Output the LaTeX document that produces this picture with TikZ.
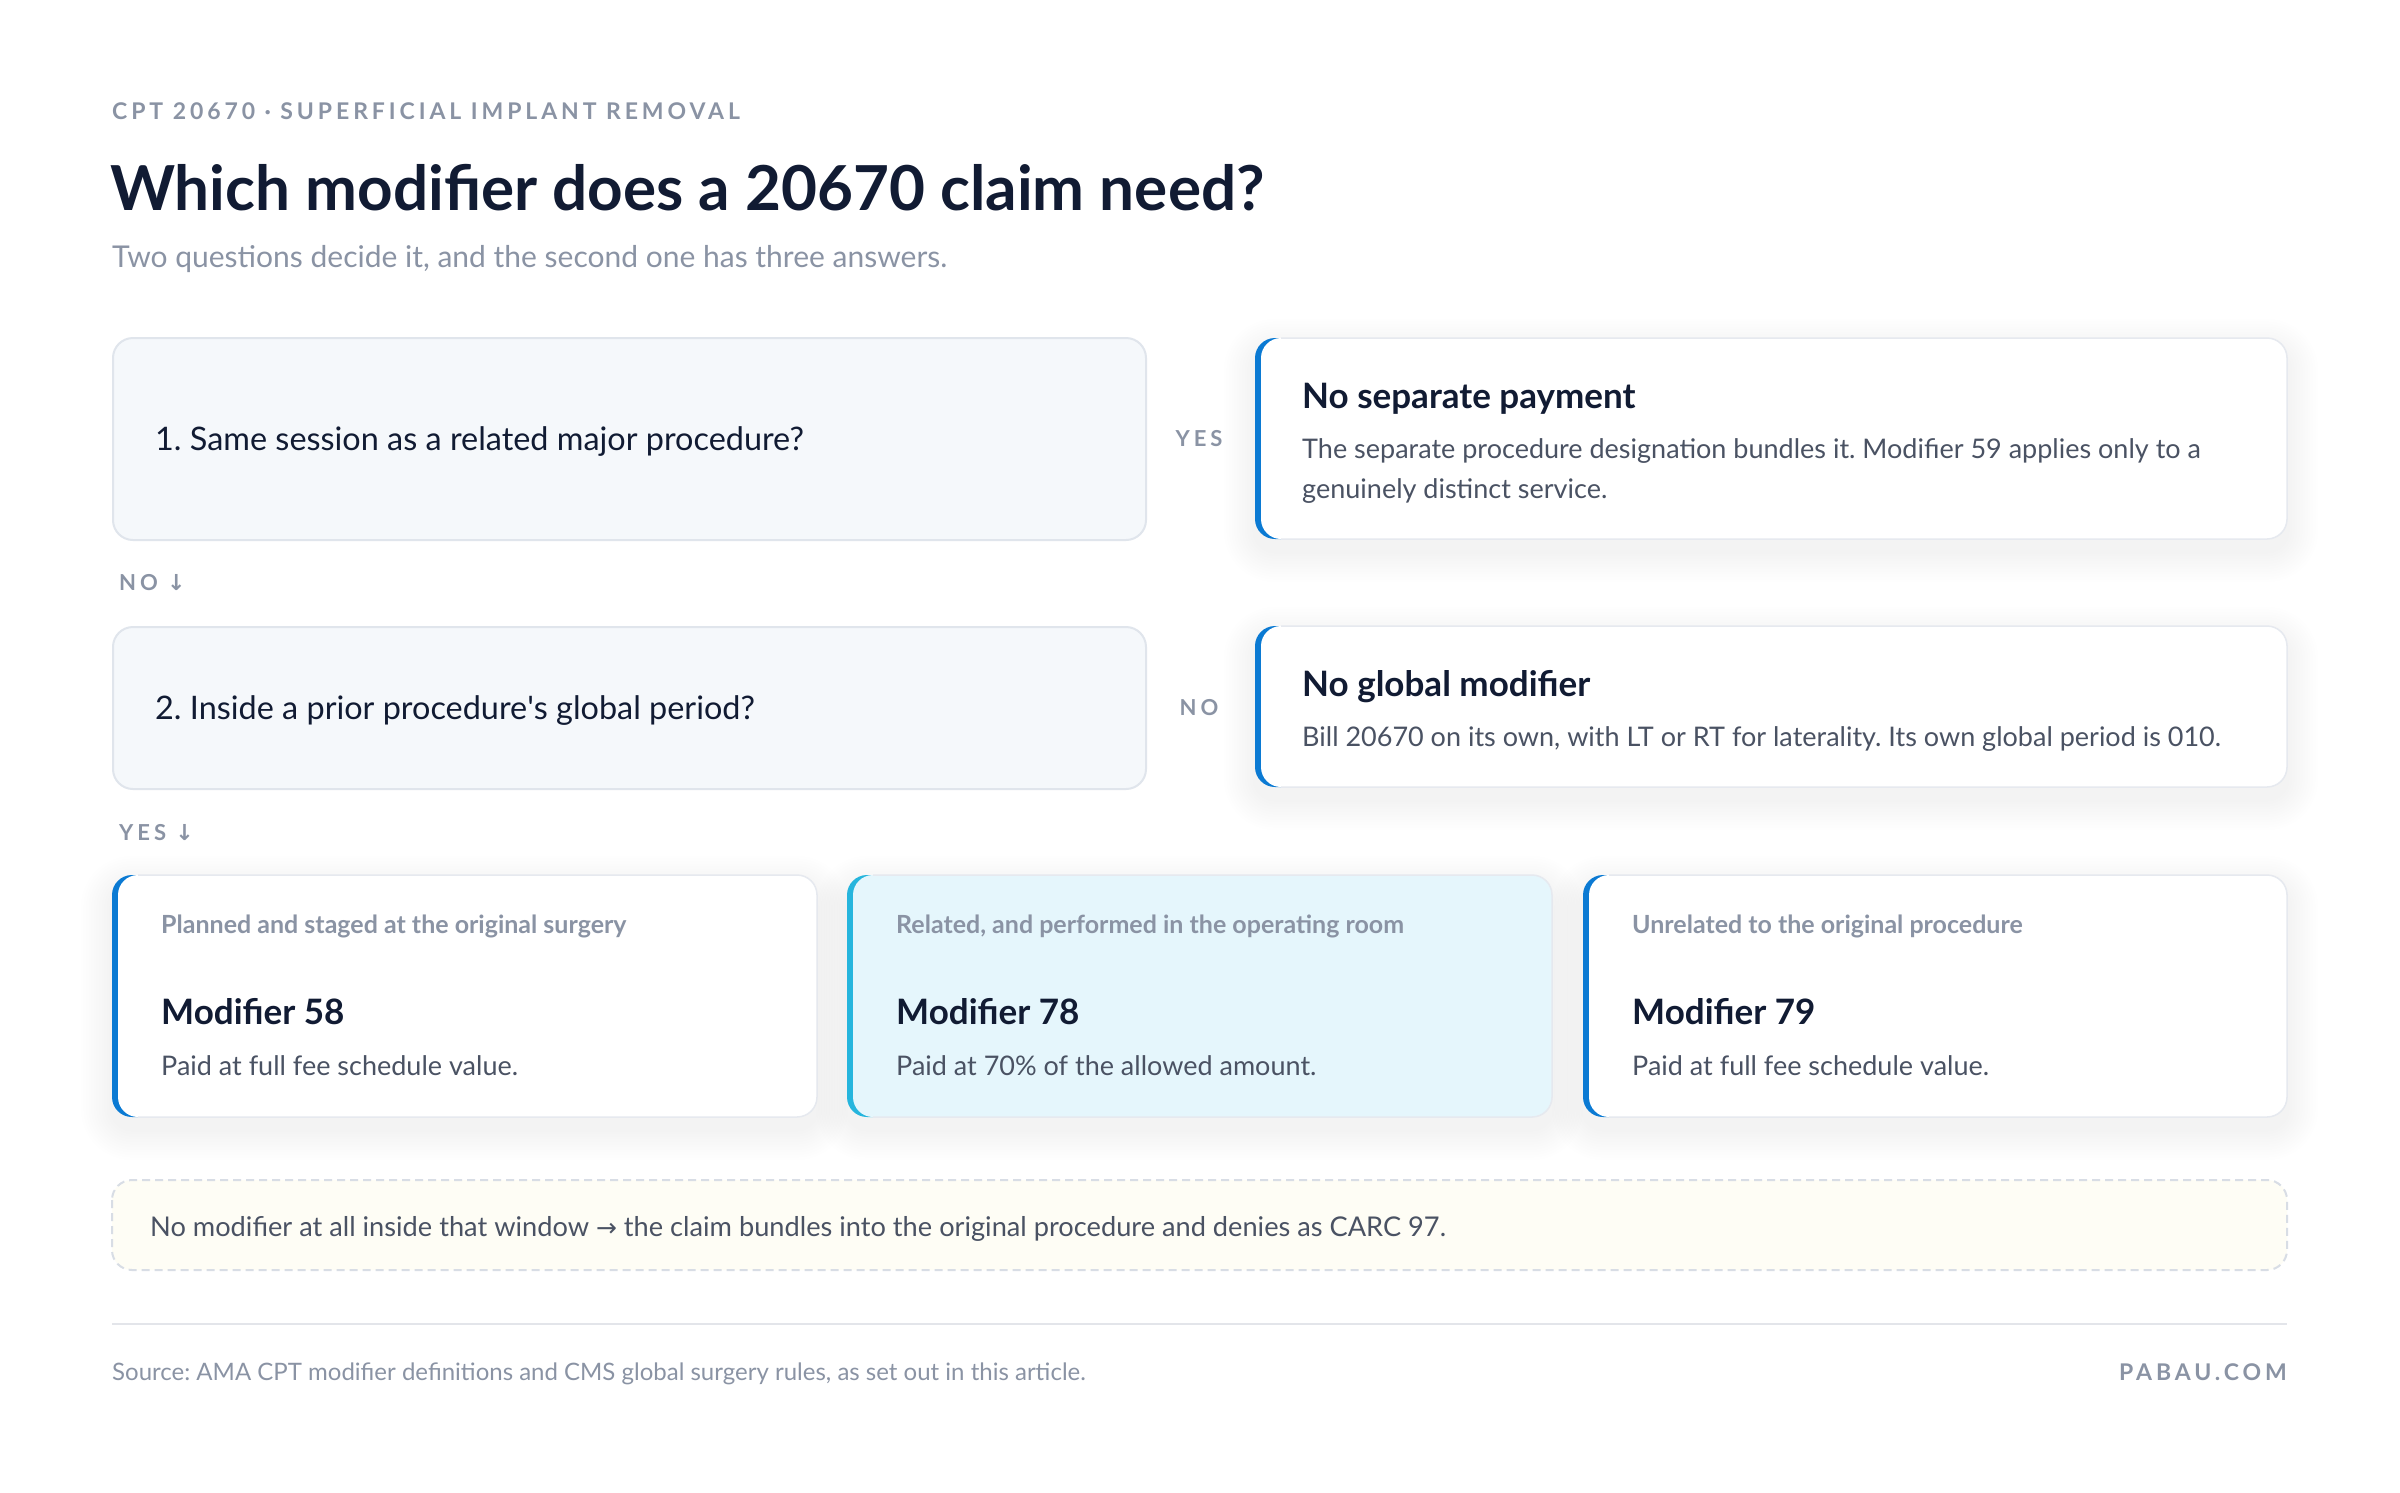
\documentclass[tikz,border=0pt]{standalone}
\usepackage{fontspec}
\setmainfont{Lato}
\newfontfamily\arrowfont{DejaVu Sans}
\newfontfamily\trackfont[LetterSpace=17]{Lato}
\newfontfamily\labelfont[LetterSpace=18]{Lato}
\newcommand\straightquote{\XeTeXglyph\XeTeXcharglyph"0027\relax}
\frenchspacing
\definecolor{ink}{HTML}{111B33}
\definecolor{muted}{HTML}{8A93A4}
\definecolor{bodytxt}{HTML}{4A5263}
\definecolor{qfill}{HTML}{F5F8FB}
\definecolor{qline}{HTML}{E0E5EC}
\definecolor{cardline}{HTML}{E6E9EF}
\definecolor{accent}{HTML}{0B7AD3}
\definecolor{cyanacc}{HTML}{26B5DD}
\definecolor{cyanfill}{HTML}{E5F6FC}
\definecolor{notefill}{HTML}{FEFDF5}
\definecolor{noteline}{HTML}{D8DDE5}
\definecolor{rulecol}{HTML}{E3E5EA}
\definecolor{shadowcol}{HTML}{1E2A4A}
\newcommand\accentcard[7]{%
  \foreach \k in {1,...,12}{%
    \pgfmathsetmacro\grow{2.6*\k}%
    \pgfmathsetmacro\rad{20+2.6*\k}%
    \fill[shadowcol, opacity=0.0055, rounded corners=\rad pt] ({#2-\grow},{#3+12-\grow}) rectangle ({#4+\grow},{#5+12+\grow});
  }
  \fill[#6, rounded corners=20pt] (#2,#3) rectangle (#4,#5);
  \fill[#7, rounded corners=20pt] ({#2+6},#3) rectangle (#4,#5);
  \begin{scope}
    \clip ({#2+26},{#3-5}) rectangle ({#4+5},{#5+5});
    \draw[cardline, line width=1.5pt, rounded corners=20pt] (#2,#3) rectangle (#4,#5);
  \end{scope}
  \coordinate (#1) at ({(#2+#4)/2},{(#3+#5)/2});
}
\tikzset{
  kicker/.style={anchor=base west, text=muted, font=\trackfont\bfseries\fontsize{23}{26}\selectfont, inner sep=0pt},
  lbl/.style={anchor=center, text=muted, font=\labelfont\bfseries\fontsize{22}{26}\selectfont, inner sep=0pt},
  qbox/.style={draw=qline, line width=2pt, fill=qfill, rounded corners=20pt, anchor=north west, inner sep=0pt},
  qtext/.style={anchor=base west, text=ink, font=\fontsize{32.4}{36}\selectfont, inner sep=0pt},
  ctitle/.style={anchor=base west, text=ink, font=\bfseries\fontsize{35}{40}\selectfont, inner sep=0pt},
  cbody/.style={anchor=base west, text=bodytxt, font=\fontsize{27}{32}\selectfont, inner sep=0pt},
  chead/.style={anchor=base west, text=muted, font=\bfseries\fontsize{25}{29}\selectfont, inner sep=0pt},
  foot/.style={anchor=base west, text=muted, font=\fontsize{24}{28}\selectfont, inner sep=0pt},
}
\begin{document}
\begin{tikzpicture}[x=1pt, y=-1pt]
\useasboundingbox (0,0) rectangle (2400,1492);
\fill[white] (0,0) rectangle (2400,1492);

% header
\node[kicker] (kick) at (112,119) {CPT 20670 · SUPERFICIAL IMPLANT REMOVAL};
\node[anchor=base west, text=ink, font=\bfseries\fontsize{62}{68}\selectfont, inner sep=0pt] (title) at (110,210) {Which modifier does a 20670 claim need?};
\node[anchor=base west, text=muted, font=\fontsize{30}{34}\selectfont, inner sep=0pt] (sub) at (112,267) {Two questions decide it, and the second one has three answers.};

% question 1
\node[qbox, minimum width=1033pt, minimum height=202pt] (q1) at (112,337) {};
\node[qtext] (q1t) at (155,450) {1. Same session as a related major procedure?};
\node[lbl] (yes1) at (1199,439) {YES};
\accentcard{r1}{1255}{338}{2287}{539}{accent}{white}
\node[ctitle] (r1t) at (1302,408) {No separate payment};
\node[cbody] (r1a) at (1302,458) {The separate procedure designation bundles it. Modifier 59 applies only to a};
\node[cbody] (r1b) at (1302,498) {genuinely distinct service.};

\node[lbl, anchor=west] (no1) at (119,583) {NO {\arrowfont\fontsize{22}{24}\selectfont ↓}};

% question 2
\node[qbox, minimum width=1033pt, minimum height=162pt] (q2) at (112,626) {};
\node[qtext] (q2t) at (155,719) {2. Inside a prior procedure\straightquote s global period?};
\node[lbl] (no2) at (1199,708) {NO};
\accentcard{r2}{1255}{626}{2287}{787}{accent}{white}
\node[ctitle] (r2t) at (1302,696) {No global modifier};
\node[cbody] (r2a) at (1302,746) {Bill 20670 on its own, with LT or RT for laterality. Its own global period is 010.};

\node[lbl, anchor=west] (yes2) at (119,833) {YES {\arrowfont\fontsize{22}{24}\selectfont ↓}};

% three cards
\accentcard{c1}{112}{875}{817}{1117}{accent}{white}
\node[chead] (c1h) at (161,933) {Planned and staged at the original surgery};
\node[ctitle] (c1t) at (161,1024) {Modifier 58};
\node[cbody] (c1b) at (161,1075) {Paid at full fee schedule value.};

\accentcard{c2}{847}{875}{1552}{1117}{cyanacc}{cyanfill}
\node[chead] (c2h) at (896,933) {Related, and performed in the operating room};
\node[ctitle] (c2t) at (896,1024) {Modifier 78};
\node[cbody] (c2b) at (896,1075) {Paid at 70\% of the allowed amount.};

\accentcard{c3}{1583}{875}{2287}{1117}{accent}{white}
\node[chead] (c3h) at (1632,933) {Unrelated to the original procedure};
\node[ctitle] (c3t) at (1632,1024) {Modifier 79};
\node[cbody] (c3b) at (1632,1075) {Paid at full fee schedule value.};

% note
\draw[noteline, fill=notefill, line width=2pt, dash pattern=on 8pt off 5pt, rounded corners=20pt] (112,1180) rectangle (2287,1270);
\node[anchor=base west, text=bodytxt, font=\fontsize{27.2}{31}\selectfont, inner sep=0pt] (note) at (150,1236) {No modifier at all inside that window {\arrowfont\fontsize{25}{28}\selectfont →} the claim bundles into the original procedure and denies as CARC 97.};

% footer
\draw[rulecol, line width=2.5pt] (112,1324) -- (2287,1324);
\node[foot] (src) at (112,1380) {Source: AMA CPT modifier definitions and CMS global surgery rules, as set out in this article.};
\node[kicker, anchor=base east] (brand) at (2287,1380) {PABAU.COM};
\end{tikzpicture}
\end{document}
